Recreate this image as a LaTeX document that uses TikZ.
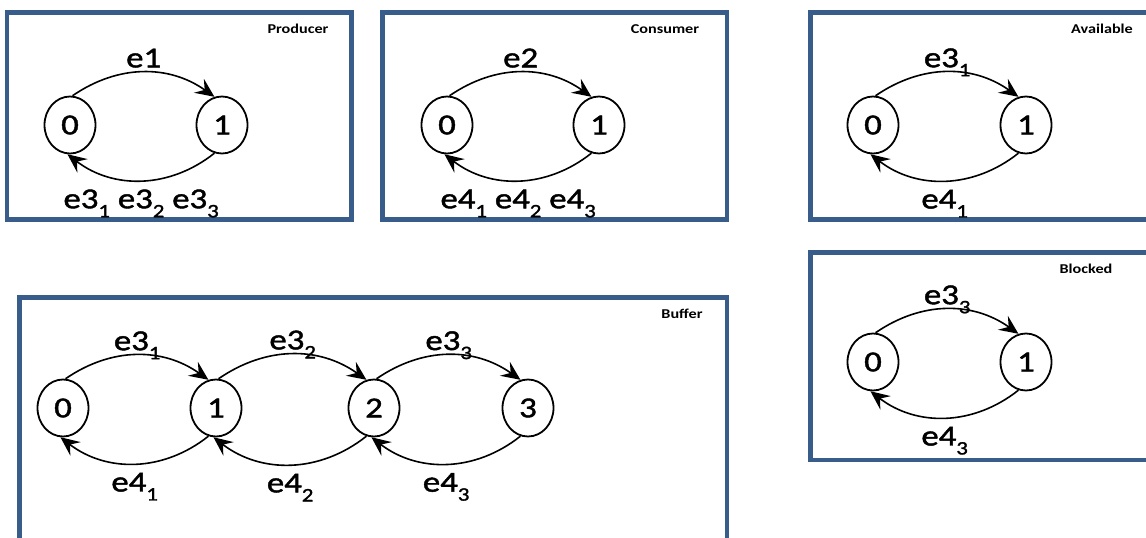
\documentclass[tikz,border=0pt]{standalone}
\usepackage{fontspec}
\setmainfont{Carlito}[FakeStretch=1.2]
\newfontfamily\statefont{Carlito}[FakeStretch=1.2,FakeBold=1.5]
\usepackage{tikz}
\usetikzlibrary{arrows.meta,shapes.geometric}

\definecolor{frame}{HTML}{385D8A}
% event name with a lowered index
\newcommand{\ev}[2]{e#1\raisebox{-9pt}{\fontsize{19}{21}\selectfont #2}}

\tikzset{
  state/.style={ellipse, draw, line width=1.8pt, minimum width=51pt,
    minimum height=57pt, inner sep=0pt, font=\statefont\fontsize{29}{32}\selectfont},
  trans/.style={-{Stealth[length=19pt,width=17pt,inset=7pt]}, line width=1.6pt},
  lbl/.style={font=\statefont\fontsize{29}{32}\selectfont, anchor=base, inner sep=0pt},
  above lbl/.style={lbl, yshift=5pt},
  below lbl/.style={lbl, yshift=-28pt},
  panel/.style={draw=frame, line width=4.5pt},
  title/.style={font=\fontsize{13.5}{15}\selectfont\bfseries, anchor=base}
}

\begin{document}
\begin{tikzpicture}[x=1pt,y=1pt]
  \useasboundingbox (0,0) rectangle (1146,-538);
  \clip (0,0) rectangle (1146,-538);

  % Producer
  \draw[panel] (7,-12.5) rectangle (351.5,-219.5);
  \node[title] (ptitle) at (298,-33) {Producer};
  \node[state] (p0) at (70,-125) {0};
  \node[state] (p1) at (222,-125) {1};
  \draw[trans] (p0.85) to[bend left=35] node[above lbl] {e1} (p1.105);
  \draw[trans] (p1.255) to[bend left=38] node[below lbl] {\ev31 \ev32 \ev33} (p0.265);

  % Consumer
  \draw[panel] (382.5,-12.5) rectangle (727,-219.5);
  \node[title] (ctitle) at (665,-33) {Consumer};
  \node[state] (c0) at (447,-125) {0};
  \node[state] (c1) at (599,-125) {1};
  \draw[trans] (c0.85) to[bend left=35] node[above lbl] {e2} (c1.105);
  \draw[trans] (c1.255) to[bend left=38] node[below lbl] {\ev41 \ev42 \ev43} (c0.265);

  % Available
  \draw[panel] (810.5,-12.5) rectangle (1160,-219.5);
  \node[title] (atitle) at (1102,-33) {Available};
  \node[state] (a0) at (873,-125) {0};
  \node[state] (a1) at (1026,-125) {1};
  \draw[trans] (a0.85) to[bend left=35] node[above lbl] {\ev31} (a1.105);
  \draw[trans] (a1.255) to[bend left=38] node[below lbl] {\ev41} (a0.265);

  % Blocked
  \draw[panel] (810.5,-252.5) rectangle (1160,-460);
  \node[title] (ktitle) at (1086,-273) {Blocked};
  \node[state] (k0) at (873,-362) {0};
  \node[state] (k1) at (1026,-362) {1};
  \draw[trans] (k0.85) to[bend left=35] node[above lbl] {\ev33} (k1.105);
  \draw[trans] (k1.255) to[bend left=38] node[below lbl] {\ev43} (k0.265);

  % Buffer
  \draw[panel] (19.5,-297.5) rectangle (727,-560);
  \node[title] (btitle) at (682,-318) {Buffer};
  \node[state] (b0) at (63,-408) {0};
  \node[state] (b1) at (216,-408) {1};
  \node[state] (b2) at (374,-408) {2};
  \node[state] (b3) at (528,-408) {3};
  \draw[trans] (b0.85) to[bend left=35] node[above lbl] {\ev31} (b1.105);
  \draw[trans] (b1.85) to[bend left=35] node[above lbl] {\ev32} (b2.105);
  \draw[trans] (b2.85) to[bend left=35] node[above lbl] {\ev33} (b3.105);
  \draw[trans] (b1.255) to[bend left=38] node[below lbl] {\ev41} (b0.265);
  \draw[trans] (b2.255) to[bend left=38] node[below lbl] {\ev42} (b1.265);
  \draw[trans] (b3.255) to[bend left=38] node[below lbl] {\ev43} (b2.265);
\end{tikzpicture}
\end{document}
